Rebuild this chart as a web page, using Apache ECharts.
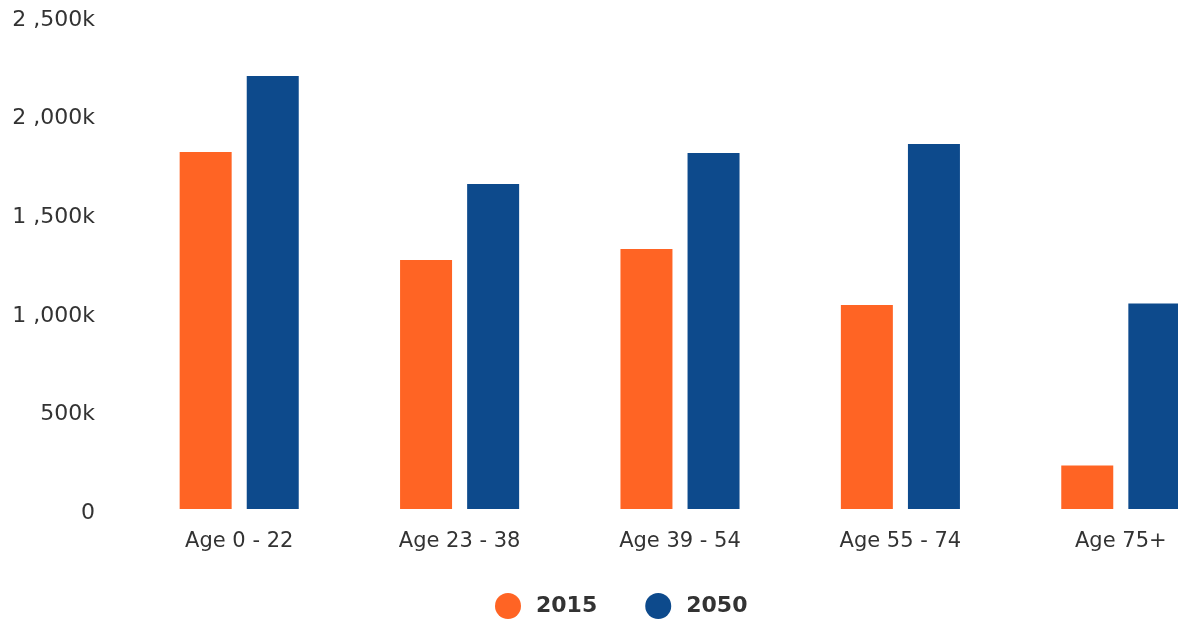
<!DOCTYPE html>
<html>
<head>
<meta charset="utf-8">
<script src="https://cdn.jsdelivr.net/npm/echarts@6/dist/echarts.min.js"></script>
<style>
  html, body { margin: 0; padding: 0; background: #ffffff; }
  #chart { width: 1178px; height: 619px; }
</style>
</head>
<body>
<div id="chart"></div>
<script>
// Population by age group, in persons
const categories = ['Age 0 - 22', 'Age 23 - 38', 'Age 39 - 54', 'Age 55 - 74', 'Age 75+'];
const values2015 = [1810000, 1263000, 1318000, 1034000, 221000];
const values2050 = [2196000, 1648000, 1805000, 1851000, 1042000];
const yTickValues = [0, 500000, 1000000, 1500000, 2000000, 2500000];
const yTickLabels = ['0', '500k', '1 ,000k', '1 ,500k', '2 ,000k', '2 ,500k'];

const chart = echarts.init(document.getElementById('chart'), null, { renderer: 'canvas' });

const fontFamily = '"DejaVu Sans", Verdana, sans-serif';

chart.setOption({
  animation: false,
  backgroundColor: '#ffffff',
  // plot runs past the right edge, so the last group is cut off
  grid: {
    left: 129, width: 1102, top: 16, bottom: 110,
    containLabel: false, outerBoundsMode: 'none'
  },
  legend: {
    top: 588,
    left: 490,
    icon: 'circle',
    itemWidth: 26,
    itemHeight: 26,
    itemGap: 48,
    textStyle: {
      fontFamily, fontSize: 22, fontWeight: 'bold', color: '#333333',
      padding: [0, 0, 0, 10]
    },
    data: ['2015', '2050']
  },
  xAxis: {
    type: 'category',
    data: categories,
    axisLine: { show: false },
    axisTick: { show: false },
    axisLabel: { fontFamily, fontSize: 21, color: '#333333', margin: 22 }
  },
  yAxis: {
    type: 'value',
    min: 0,
    max: 2500000,
    interval: 500000,
    splitLine: { show: false },
    axisLine: { show: false },
    axisTick: { show: false },
    axisLabel: {
      fontFamily, fontSize: 22, color: '#333333', margin: 34,
      verticalAlign: 'top', lineHeight: 8,
      formatter: v => yTickLabels[yTickValues.indexOf(v)]
    }
  },
  series: [
    {
      name: '2015', type: 'bar', data: values2015,
      barWidth: 52, barGap: '29%',
      itemStyle: { color: '#ff6424' }
    },
    {
      name: '2050', type: 'bar', data: values2050,
      barWidth: 52, barGap: '29%',
      itemStyle: { color: '#0d4a8c' }
    }
  ]
});
</script>
</body>
</html>
